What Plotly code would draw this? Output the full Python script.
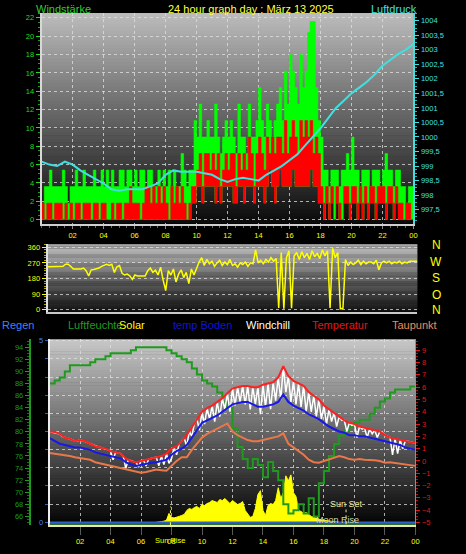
import plotly.graph_objects as go

W, H = 466, 554


def px(x):
    return x / W


def py(y):
    return 1 - y / H


# ---------------- data ----------------
hours_10min = [i / 6 for i in range(145)]
hours_20min = [i / 3 for i in range(73)]
hours_30min = [i / 2 for i in range(49)]
solar_hours = [7 + i / 6 for i in range(73)]

tick_hours = [2, 4, 6, 8, 10, 12, 14, 16, 18, 20, 22, 24]
tick_labels = ["02", "04", "06", "08", "10", "12", "14", "16", "18", "20", "22", "00"]

pressure_ticks = [997.5, 998, 998.5, 999, 999.5, 1000, 1000.5, 1001, 1001.5,
                  1002, 1002.5, 1003, 1003.5, 1004]
pressure_tick_labels = ["997,5", "998", "998,5", "999", "999,5", "1000", "1000,5", "1001",
                        "1001,5", "1002", "1002,5", "1003", "1003,5", "1004"]

# wind (km/h), 10-minute blocks
wind_gust = [
    1.8, 3.6, 3.6, 5.4, 3.6, 3.6,
    3.6, 3.6, 5.4, 3.6, 1.8, 3.6,
    3.6, 5.4, 3.6, 3.6, 5.4, 3.6,
    3.6, 3.6, 5.4, 3.6, 3.6, 5.4,
    3.6, 5.4, 3.6, 5.4, 3.6, 3.6,
    5.4, 5.4, 3.6, 5.4, 5.4, 3.6,
    5.4, 3.6, 5.4, 5.4, 3.6, 5.4,
    5.4, 3.6, 3.6, 5.4, 3.6, 5.4,
    3.6, 5.4, 3.6, 5.4, 3.6, 3.6,
    7.2, 5.4, 3.6, 5.4, 5.4, 10.8,
    9.0, 12.6, 9.0, 9.0, 10.8, 9.0,
    9.0, 12.6, 9.0, 7.2, 9.0, 10.8,
    9.0, 10.8, 9.0, 7.2, 12.6, 9.0,
    9.0, 7.2, 12.6, 9.0, 9.0, 10.8,
    14.4, 10.8, 9.0, 12.6, 10.8, 9.0,
    10.8, 12.6, 14.4, 10.8, 16.2, 12.6,
    18.0, 16.2, 14.4, 12.6, 18.0, 14.4,
    16.2, 20.4, 21.6, 21.6, 14.4, 10.8,
    9.0, 5.4, 5.4, 3.6, 5.4, 5.4,
    5.4, 3.6, 5.4, 5.4, 7.2, 5.4,
    9.0, 5.4, 5.4, 3.6, 5.4, 5.4,
    5.4, 3.6, 5.4, 5.4, 5.4, 3.6,
    5.4, 7.2, 5.4, 5.4, 3.6, 5.4,
    5.4, 3.6, 3.6, 1.8, 3.6, 3.6,
]
wind_avg = [
    1.8, 0.0, 1.8, 1.8, 0.0, 1.8,
    1.8, 1.8, 0.0, 1.8, 0.0, 1.8,
    0.0, 1.8, 1.8, 0.0, 1.8, 1.8,
    1.8, 0.0, 1.8, 1.8, 0.0, 1.8,
    1.8, 0.0, 0.0, 1.8, 0.0, 1.8,
    1.8, 0.0, 1.8, 1.8, 3.6, 1.8,
    1.8, 1.8, 0.0, 1.8, 3.6, 3.6,
    1.8, 3.6, 1.8, 3.6, 1.8, 3.6,
    1.8, 0.0, 3.6, 1.8, 3.6, 1.8,
    3.6, 1.8, 0.0, 1.8, 3.6, 3.6,
    5.4, 7.2, 3.6, 7.2, 7.2, 5.4,
    7.2, 5.4, 7.2, 3.6, 5.4, 7.2,
    5.4, 7.2, 7.2, 3.6, 7.2, 5.4,
    7.2, 5.4, 9.0, 7.2, 3.6, 7.2,
    9.0, 7.2, 5.4, 9.0, 7.2, 9.0,
    7.2, 9.0, 9.0, 7.2, 10.8, 7.2,
    9.0, 10.8, 9.0, 7.2, 10.8, 9.0,
    10.8, 9.0, 10.8, 7.2, 9.0, 7.2,
    3.6, 1.8, 3.6, 1.8, 3.6, 0.0,
    3.6, 1.8, 0.0, 3.6, 3.6, 1.8,
    3.6, 3.6, 1.8, 3.6, 1.8, 3.6,
    1.8, 3.6, 3.6, 1.8, 3.6, 3.6,
    3.6, 1.8, 3.6, 3.6, 1.8, 3.6,
    1.8, 1.8, 0.0, 1.8, 1.8, 0.0,
]
wind_lull = [
    0, 0, 0, 0, 0, 0,
    0, 0, 0, 0, 0, 0,
    0, 0, 0, 0, 0, 0,
    0, 0, 0, 0, 0, 0,
    0, 0, 0, 0, 0, 0,
    0, 0, 0, 0, 0, 0,
    0, 0, 0, 0, 0, 0,
    0, 0, 0, 0, 0, 0,
    0, 0, 0, 0, 0, 0,
    0, 0, 0, 0, 1.8, 1.8,
    3.6, 3.6, 1.8, 3.6, 3.6, 3.6,
    3.6, 1.8, 3.6, 1.8, 3.6, 3.6,
    3.6, 3.6, 1.8, 1.8, 3.6, 3.6,
    1.8, 3.6, 3.6, 3.6, 1.8, 3.6,
    3.6, 3.6, 1.8, 3.6, 5.4, 3.6,
    1.8, 3.6, 5.4, 3.6, 3.6, 3.6,
    3.6, 5.4, 3.6, 3.6, 3.6, 3.6,
    3.6, 3.6, 5.4, 3.6, 3.6, 1.8,
    1.8, 0, 1.8, 0, 1.8, 0,
    1.8, 0, 0, 1.8, 1.8, 0,
    1.8, 1.8, 0, 1.8, 0, 1.8,
    0, 1.8, 1.8, 0, 1.8, 1.8,
    1.8, 0, 1.8, 1.8, 0, 1.8,
    0, 0, 0, 0, 0, 0,
]

# pressure (hPa), 30-minute samples
pressure = [
    999.15, 999.05, 999.0, 999.15, 999.05, 998.85, 998.7, 998.55, 998.4, 998.2,
    998.15, 998.2, 998.2, 998.2, 998.3, 998.4, 998.7, 998.85, 998.8, 998.8,
    998.8, 998.75, 998.7, 998.55, 998.45, 998.55, 998.6, 998.55, 998.5, 998.7,
    998.85, 999.0, 999.2, 999.4, 999.7, 1000.0, 1000.3, 1000.65, 1001.0, 1001.25,
    1001.5, 1001.7, 1001.9, 1002.15, 1002.45, 1002.65, 1002.85, 1003.0, 1003.2,
]

# wind direction (deg), 10-minute samples
wind_dir = [
    247, 247, 247, 247, 247, 247,
    250, 262, 262, 250, 235, 235,
    235, 235, 240, 225, 195, 230,
    232, 235, 240, 250, 258, 262,
    255, 262, 215, 248, 255, 210,
    200, 205, 195, 175, 200, 195,
    195, 195, 195, 225, 240, 215,
    228, 200, 245, 170, 110, 225,
    200, 235, 160, 205, 230, 185,
    215, 150, 235, 200, 240, 275,
    300, 255, 290, 265, 280, 250,
    270, 285, 255, 275, 260, 290,
    255, 265, 245, 270, 260, 275,
    250, 270, 265, 345, 270, 285,
    265, 290, 275, 300, 280, 295,
    10, 330, 5, 300, 340, 8,
    310, 330, 290, 335, 300, 325,
    290, 340, 305, 325, 295, 345,
    310, 340, 10, 355, 300, 330,
    5, 8, 290, 255, 275, 260,
    270, 285, 260, 280, 265, 275,
    275, 265, 285, 230, 270, 280,
    270, 280, 265, 275, 270, 280,
    265, 275, 270, 280, 280, 280,
    280,
]

# temperatures (deg C), 20-minute samples
temperatur = [
    2.4, 2.35, 2.2, 1.9, 1.8, 1.6, 1.7, 1.6, 1.4, 1.2, 1.1, 1.0,
    0.8, 0.7, 0.6, 0.2, 0.0, -0.1, 0.0, 0.1, 0.2, 0.3, 0.4, 0.6,
    1.0, 1.2, 1.6, 2.1, 2.7, 3.4, 4.0, 4.3, 4.5, 4.8, 5.1, 5.5,
    5.9, 6.0, 6.1, 6.1, 6.0, 6.0, 6.2, 6.3, 6.4, 6.8, 7.7, 6.9,
    6.5, 6.3, 6.1, 5.6, 5.3, 5.0, 4.5, 4.2, 3.9, 3.6, 3.3, 3.1,
    3.0, 2.8, 2.7, 2.6, 2.5, 2.4, 2.1, 1.9, 1.8, 1.7, 1.6, 1.55,
    1.45,
]
temp_boden = [
    1.85, 1.6, 1.4, 1.3, 1.2, 1.1, 1.1, 1.0, 0.9, 0.7, 0.6, 0.5,
    0.45, 0.3, 0.2, -0.1, -0.3, -0.4, -0.3, -0.2, -0.15, -0.1, 0.0, 0.1,
    0.5, 0.8, 1.0, 1.3, 1.9, 2.5, 3.1, 3.3, 3.5, 3.7, 4.0, 4.3,
    4.6, 4.7, 4.8, 4.8, 4.6, 4.4, 4.4, 4.5, 4.6, 4.8, 5.4, 4.8,
    4.5, 4.3, 4.1, 3.8, 3.6, 3.4, 3.1, 2.8, 2.6, 2.4, 2.3, 2.1,
    2.1, 2.0, 2.0, 1.9, 1.8, 1.7, 1.6, 1.5, 1.45, 1.3, 1.1, 1.0,
    0.9,
]
taupunkt = [
    0.65, 0.6, 0.5, 0.45, 0.4, 0.3, 0.25, 0.2, 0.1, -0.1, -0.2, -0.3,
    -0.4, -0.5, -0.6, -0.7, -0.8, -0.9, -0.95, -0.9, -0.8, -0.7, -0.75, -0.8,
    -0.4, 0.0, 0.3, 0.3, 0.9, 1.4, 1.9, 2.2, 2.4, 2.6, 2.8, 3.05,
    2.4, 2.1, 1.9, 1.7, 1.6, 1.6, 1.7, 1.8, 1.9, 2.0, 2.25, 1.4,
    1.1, 0.8, 0.5, 0.1, -0.1, -0.15, 0.0, 0.1, 0.3, 0.4, 0.3, 0.15,
    0.1, 0.15, 0.1, 0.1, 0.05, 0.0, -0.15, -0.1, -0.15, -0.2, -0.3, -0.35,
    -0.4,
]
luftfeuchte = [
    88, 88.5, 89, 90, 91, 91, 91, 91, 91.5, 92, 92, 92.5,
    93, 93, 93, 93, 93.5, 94, 94, 94, 94, 94, 94, 93.5,
    93, 92.5, 92, 91.5, 90.5, 89.5, 88.5, 88, 87.5, 86.5, 85, 84,
    80.5, 77.5, 75.5, 74, 75.5, 74.5, 72.5, 75, 73.5, 72, 68, 66.5,
    67, 68, 66.5, 69, 66, 71.5, 73.5, 76, 78, 79.4, 80.2, 80.8,
    81.5, 82, 82, 83, 84, 85, 85.5, 86.5, 87, 87, 87, 87.5,
    87.5,
]
# windchill (deg C), 10-minute samples
windchill = [
    2.4, 2.35, 2.35, 2.3, 2.2, 2.0,
    1.9, 1.85, 1.8, 1.7, 1.6, 1.65,
    1.7, 1.65, 1.6, 1.5, 1.4, 1.3,
    1.2, 1.15, 1.1, 1.05, 1.0, 0.9,
    0.8, 0.1, 0.7, 0.65, 0.6, 0.4,
    -0.6, 0.1, 0.0, -0.05, -0.1, -0.5,
    0.0, 0.05, -0.4, 0.15, 0.2, 0.25,
    0.3, -0.4, 0.4, -0.3, 0.6, -0.2,
    0.2, 1.1, 0.5, 1.4, 1.6, 1.85,
    1.2, 2.4, 2.0, 3.05, 3.4, 2.5,
    4.0, 3.0, 4.3, 3.4, 4.5, 3.2,
    4.8, 3.6, 5.1, 4.2, 5.5, 4.0,
    5.9, 4.5, 6.0, 4.8, 6.1, 4.6,
    6.1, 4.2, 6.0, 4.6, 6.0, 3.8,
    6.2, 4.4, 6.3, 4.2, 6.4, 4.9,
    6.8, 5.0, 7.7, 5.6, 6.9, 4.8,
    6.5, 4.6, 6.3, 4.4, 6.1, 4.0,
    5.6, 4.0, 5.3, 3.6, 5.0, 3.4,
    4.5, 3.0, 4.2, 3.2, 3.9, 2.8,
    3.6, 3.3, 3.3, 2.4, 3.1, 2.9,
    3.0, 1.9, 2.8, 2.6, 2.7, 1.9,
    2.6, 2.2, 2.5, 1.9, 2.4, 2.3,
    2.1, 2.0, 1.9, 0.5, 1.8, 0.6,
    1.7, 1.0, 1.6, 1.6, 1.55, 1.5,
    1.45,
]
# solar radiation (W/m2), 10-minute samples from 07:00
solar = [
    0, 0, 3, 6, 10, 45,
    25, 22, 28, 30, 35, 40,
    60, 70, 65, 75, 80, 70,
    90, 85, 95, 100, 110, 105,
    100, 115, 110, 120, 105, 95,
    110, 100, 90, 95, 105, 60,
    45, 25, 30, 70, 140, 160,
    60, 35, 85, 95, 90, 110,
    175, 120, 150, 235, 210, 240,
    150, 130, 60, 55, 45, 50,
    40, 30, 25, 20, 15, 12,
    10, 8, 5, 3, 2, 0,
    0,
]
regen_hours = [0, 24]
regen = [0.0, 0.0]

sunrise_hour = 7.93
sunset_hour = 19.45
sunset_label_hour = 19.5
moonrise_label_hour = 18.9

# ---------------- styles ----------------
FONT = "Liberation Sans, Arial, sans-serif"
GRID = "rgba(225,225,225,0.75)"
YEL = "#ffff00"
GREEN_AX = "#22dd22"
CYAN = "#40e0e0"
HUM_GREEN = "#1f9a1f"
RED = "#ff2020"
BLUE = "#1818e8"
ORANGE = "#e8784a"
TICK_SIZE = 7.5

fig = go.Figure()

# top panel: wind as stepped bands (lull -> gust green, lull -> average red)
step_x = hours_10min
lull_steps = wind_lull + [wind_lull[-1]]
for top_series, color in ((wind_gust, "#00ff00"), (wind_avg, "#ff0000")):
    fig.add_trace(go.Scatter(
        x=step_x, y=lull_steps, mode="lines", line_shape="hv",
        line=dict(width=0, color=color), xaxis="x", yaxis="y", hoverinfo="skip"))
    fig.add_trace(go.Scatter(
        x=step_x, y=top_series + [top_series[-1]], mode="lines", line_shape="hv",
        fill="tonexty", fillcolor=color,
        line=dict(width=0.6, color=color), xaxis="x", yaxis="y", hoverinfo="skip"))

fig.add_trace(go.Scatter(
    x=hours_30min, y=pressure, mode="lines",
    line=dict(color=CYAN, width=2), xaxis="x", yaxis="y2", hoverinfo="skip"))

# middle panel: wind direction
fig.add_trace(go.Scatter(
    x=hours_10min, y=wind_dir, mode="lines",
    line=dict(color=YEL, width=1.5), xaxis="x2", yaxis="y3", hoverinfo="skip"))

# bottom panel
fig.add_trace(go.Scatter(
    x=solar_hours, y=solar, mode="lines", fill="tozeroy",
    fillcolor=YEL, line=dict(color=YEL, width=1),
    xaxis="x3", yaxis="y5", hoverinfo="skip"))
fig.add_trace(go.Scatter(
    x=hours_20min, y=luftfeuchte, mode="lines", line_shape="hv",
    line=dict(color=HUM_GREEN, width=2), xaxis="x3", yaxis="y4", hoverinfo="skip"))
fig.add_trace(go.Scatter(
    x=hours_10min, y=windchill, mode="lines",
    line=dict(color="#ffffff", width=1.5), xaxis="x3", yaxis="y6", hoverinfo="skip"))
fig.add_trace(go.Scatter(
    x=hours_20min, y=taupunkt, mode="lines",
    line=dict(color=ORANGE, width=2), xaxis="x3", yaxis="y6", hoverinfo="skip"))
fig.add_trace(go.Scatter(
    x=hours_20min, y=temp_boden, mode="lines",
    line=dict(color=BLUE, width=2), xaxis="x3", yaxis="y6", hoverinfo="skip"))
fig.add_trace(go.Scatter(
    x=hours_20min, y=temperatur, mode="lines",
    line=dict(color=RED, width=2), xaxis="x3", yaxis="y6", hoverinfo="skip"))
fig.add_trace(go.Scatter(
    x=regen_hours, y=regen, mode="lines",
    line=dict(color="#2f62c8", width=1.5), xaxis="x3", yaxis="y7", hoverinfo="skip"))

# ---------------- background gradients ----------------
shapes = []


def gradient(xref, yref, top, bottom, n=60):
    for i in range(n):
        f0 = i / n
        f1 = (i + 1) / n
        v = round(bottom + (top - bottom) * (f0 + f1) / 2)
        shapes.append(dict(type="rect", xref=xref, yref=yref, x0=0, x1=1,
                           y0=f0, y1=min(1, f1 + 0.003),
                           fillcolor=f"rgb({v},{v},{v})", line=dict(width=0),
                           layer="below"))


gradient("x domain", "y domain", 188, 10)
gradient("x2 domain", "y3 domain", 192, 18)
gradient("x3 domain", "y5 domain", 200, 2)

# bottom bands and sun event markers
shapes.append(dict(type="rect", xref="x3 domain", yref="paper", x0=0, x1=1,
                   y0=py(527.4), y1=py(525.9), fillcolor="#3f8f3f",
                   line=dict(width=0), layer="above"))
shapes.append(dict(type="line", xref="x3", yref="paper", x0=sunrise_hour, x1=sunrise_hour,
                   y0=py(528), y1=py(509), line=dict(color="#ffff60", width=1, dash="dot")))
shapes.append(dict(type="line", xref="x3", yref="paper", x0=sunset_hour, x1=sunset_hour,
                   y0=py(527), y1=py(512), line=dict(color="#e8e890", width=1, dash="dot")))

# ---------------- annotations ----------------
ann = []


def text(x, y, s, color, size=11, xanchor="left", xref="paper"):
    ann.append(dict(x=x if xref != "paper" else px(x), y=py(y), xref=xref, yref="paper",
                    text=s, showarrow=False, xanchor=xanchor, yanchor="middle",
                    font=dict(family=FONT, size=size, color=color)))


text(34, 6, "Windstärke", "#33cc33")
text(253, 6, "24 hour graph day : März 13 2025", "#ffff40", xanchor="center")
text(372, 6, "Luftdruck", CYAN)

for letter, yy in zip(["N", "W", "S", "O", "N"], [245, 261.5, 278, 295, 310.5]):
    text(440, yy, letter, YEL, size=12, xanchor="center")

legend_items = [
    (0, "Regen", "#4080ff"),
    (67, "Luftfeuchte", "#239b23"),
    (118, "Solar", YEL),
    (172, "temp Boden", "#1414d0"),
    (246, "Windchill", "#ffffff"),
    (313, "Temperatur", "#e01818"),
    (393, "Taupunkt", "#f08a5a"),
]
for xx, s, c in legend_items:
    text(xx, 326, s, c)

text(sunset_label_hour, 506, "Sun Set", "#e8e890", size=9, xanchor="center", xref="x3")
text(moonrise_label_hour, 523, "Moon Rise", "#d8d8a0", size=9, xanchor="center", xref="x3")
text(sunrise_hour, 543, "Sun Rise", YEL, size=TICK_SIZE, xanchor="center", xref="x3")

# ---------------- layout ----------------
common_x = dict(range=[0, 24], zeroline=False, fixedrange=True)

fig.update_layout(
    width=W, height=H,
    margin=dict(l=0, r=0, t=0, b=0),
    paper_bgcolor="black", plot_bgcolor="black",
    showlegend=False,
    font=dict(family=FONT, size=TICK_SIZE, color=YEL),
    shapes=shapes, annotations=ann,
    xaxis=dict(
        **common_x, domain=[px(42), px(417)], anchor="y",
        tickvals=tick_hours, ticktext=tick_labels,
        tickfont=dict(color=YEL, size=TICK_SIZE),
        ticks="outside", ticklen=3, tickcolor="#8a8a8a",
        minor=dict(tickmode="linear", tick0=0, dtick=0.5, ticks="outside",
                   ticklen=2, tickcolor="#6a6a6a"),
        showgrid=True, gridcolor=GRID, griddash="dot", gridwidth=1,
        showline=True, linecolor="#d0d0d0", linewidth=2),
    yaxis=dict(
        domain=[py(223), py(10)], range=[-0.43, 22.54], anchor="x",
        tick0=0, dtick=2, tickfont=dict(color=GREEN_AX, size=TICK_SIZE),
        ticks="outside", ticklen=4, tickcolor=GREEN_AX,
        minor=dict(dtick=0.5, ticks="outside", ticklen=2, tickcolor="#1aa01a"),
        showgrid=True, gridcolor=GRID, griddash="dot", gridwidth=1,
        showline=True, linecolor="#d8d8d8", linewidth=2, zeroline=False, fixedrange=True),
    yaxis2=dict(
        overlaying="y", side="right", anchor="x", range=[997.02, 1004.27],
        tickvals=pressure_ticks, ticktext=pressure_tick_labels,
        tickfont=dict(color=CYAN, size=TICK_SIZE),
        ticks="outside", ticklen=4, tickcolor=CYAN,
        minor=dict(tickmode="linear", tick0=997, dtick=0.125, ticks="outside",
                   ticklen=2, tickcolor="#30b0b0"),
        showgrid=False, showline=True, linecolor=CYAN, linewidth=2,
        zeroline=False, fixedrange=True),
    xaxis2=dict(
        **common_x, domain=[px(48), px(421)], anchor="y3",
        showticklabels=False, ticks="", showgrid=False,
        showline=True, linecolor="#c8c8c8", linewidth=2),
    yaxis3=dict(
        domain=[py(312), py(244)], range=[-11.4, 377], anchor="x2",
        tick0=0, dtick=90, tickfont=dict(color=YEL, size=TICK_SIZE),
        ticks="outside", ticklen=4, tickcolor=YEL,
        minor=dict(dtick=15, ticks="outside", ticklen=2, tickcolor="#b0b000"),
        showgrid=True, gridcolor=GRID, griddash="dot", gridwidth=1,
        showline=True, linecolor="#e0e0e0", linewidth=2, zeroline=False, fixedrange=True),
    xaxis3=dict(
        **common_x, domain=[px(50), px(419)], anchor="y5",
        tickvals=tick_hours, ticktext=tick_labels,
        tickfont=dict(color=YEL, size=TICK_SIZE),
        ticks="outside", ticklen=8, tickcolor="#5a5a5a",
        showgrid=True, gridcolor=GRID, griddash="dot", gridwidth=1,
        showline=True, linecolor="#e8e8a8", linewidth=2),
    yaxis5=dict(
        domain=[py(528), py(340)], range=[-15, 925], anchor="x3",
        visible=False, showgrid=False, zeroline=False, fixedrange=True),
    yaxis4=dict(
        overlaying="y5", anchor="free", position=px(30), side="left",
        range=[64.53, 95.31], tick0=0, dtick=2,
        tickfont=dict(color=HUM_GREEN, size=TICK_SIZE),
        ticks="outside", ticklen=4, tickcolor=HUM_GREEN,
        minor=dict(dtick=0.5, ticks="outside", ticklen=2, tickcolor="#157015"),
        showgrid=False, showline=True, linecolor=HUM_GREEN, linewidth=2,
        zeroline=False, fixedrange=True),
    yaxis6=dict(
        overlaying="y5", side="right", anchor="x3",
        range=[-5.23, 9.89], tick0=0, dtick=1,
        tickfont=dict(color="#e01818", size=TICK_SIZE),
        ticks="outside", ticklen=4, tickcolor="#e01818",
        minor=dict(dtick=0.25, ticks="outside", ticklen=2, tickcolor="#b01010"),
        showgrid=False, showline=True, linecolor="#ff6060", linewidth=1,
        zeroline=False, fixedrange=True),
    yaxis7=dict(
        overlaying="y5", side="left", anchor="x3",
        range=[-0.082, 5.04],
        tickvals=[i / 2 for i in range(11)],
        ticktext=["0", "", "", "", "", "", "", "", "", "", "5"],
        tickfont=dict(color="#4080ff", size=TICK_SIZE),
        ticks="outside", ticklen=3, tickcolor="#3060c0",
        showgrid=True, gridcolor=GRID, griddash="dot", gridwidth=1,
        showline=True, linecolor="#eeeeee", linewidth=2,
        zeroline=False, fixedrange=True),
)

fig.write_html(
    "out.html",
    config={"displayModeBar": False},
    post_script="document.body.style.margin='0';document.body.style.overflow='hidden';",
)
